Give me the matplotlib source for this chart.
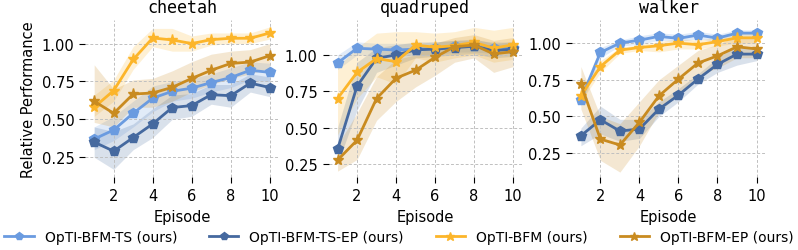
import matplotlib
matplotlib.use("Agg")
import matplotlib.pyplot as plt
import numpy as np

plt.rcParams["font.family"] = "DejaVu Sans"
plt.rcParams["font.size"] = 10

# episodes
episodes = [1, 2, 3, 4, 5, 6, 7, 8, 9, 10]

tasks = ["cheetah", "quadruped", "walker"]
methods = ["OpTI-BFM-TS (ours)", "OpTI-BFM-TS-EP (ours)", "OpTI-BFM (ours)", "OpTI-BFM-EP (ours)"]
colors = ["#6a9be0", "#45699f", "#fcb52a", "#c98b20"]
markers = ["p", "p", "*", "*"]

# mean relative performance, per task, per method
cheetah_mean = [
    [0.37, 0.43, 0.54, 0.64, 0.685, 0.706, 0.743, 0.776, 0.824, 0.81],
    [0.35, 0.29, 0.38, 0.47, 0.578, 0.591, 0.663, 0.656, 0.739, 0.71],
    [0.58, 0.69, 0.895, 1.037, 1.024, 1.0, 1.026, 1.035, 1.035, 1.07],
    [0.62, 0.54, 0.667, 0.674, 0.711, 0.77, 0.824, 0.869, 0.878, 0.92],
]
cheetah_lo = [
    [0.30, 0.36, 0.45, 0.55, 0.62, 0.64, 0.68, 0.71, 0.76, 0.75],
    [0.25, 0.17, 0.30, 0.38, 0.50, 0.52, 0.60, 0.58, 0.68, 0.65],
    [0.52, 0.62, 0.83, 0.98, 0.95, 0.95, 0.99, 1.00, 1.00, 1.03],
    [0.48, 0.45, 0.58, 0.58, 0.62, 0.68, 0.73, 0.77, 0.80, 0.84],
]
cheetah_hi = [
    [0.45, 0.52, 0.62, 0.72, 0.75, 0.77, 0.80, 0.84, 0.88, 0.87],
    [0.45, 0.42, 0.47, 0.57, 0.66, 0.67, 0.73, 0.73, 0.80, 0.78],
    [0.66, 0.76, 0.98, 1.10, 1.10, 1.05, 1.07, 1.07, 1.07, 1.11],
    [0.86, 0.70, 0.76, 0.77, 0.82, 0.88, 0.93, 0.95, 0.96, 1.00],
]

quadruped_mean = [
    [0.945, 1.046, 1.04, 1.034, 1.04, 1.045, 1.06, 1.06, 1.05, 1.05],
    [0.35, 0.785, 0.977, 1.0, 1.035, 1.04, 1.05, 1.06, 1.03, 1.04],
    [0.70, 0.88, 0.975, 0.954, 1.068, 1.053, 1.064, 1.087, 1.046, 1.07],
    [0.276, 0.413, 0.70, 0.84, 0.895, 0.984, 1.057, 1.068, 1.007, 1.023],
]
quadruped_lo = [
    [0.90, 1.00, 1.00, 0.99, 1.00, 1.00, 1.02, 1.02, 1.01, 1.01],
    [0.25, 0.62, 0.88, 0.93, 0.98, 0.99, 1.00, 1.01, 0.98, 0.99],
    [0.45, 0.70, 0.85, 0.80, 0.98, 0.95, 0.98, 1.00, 0.95, 0.97],
    [0.20, 0.28, 0.55, 0.68, 0.78, 0.86, 0.95, 0.98, 0.88, 0.92],
]
quadruped_hi = [
    [1.00, 1.09, 1.08, 1.08, 1.08, 1.09, 1.10, 1.10, 1.09, 1.09],
    [0.50, 0.95, 1.05, 1.07, 1.09, 1.09, 1.10, 1.11, 1.08, 1.09],
    [0.92, 1.05, 1.15, 1.16, 1.16, 1.15, 1.16, 1.19, 1.17, 1.19],
    [0.38, 0.60, 0.85, 0.97, 1.00, 1.08, 1.12, 1.14, 1.10, 1.12],
]

walker_mean = [
    [0.614, 0.936, 1.0, 1.02, 1.046, 1.032, 1.055, 1.034, 1.068, 1.068],
    [0.368, 0.477, 0.40, 0.414, 0.55, 0.645, 0.755, 0.855, 0.925, 0.925],
    [0.64, 0.84, 0.952, 0.97, 0.982, 1.0, 0.989, 1.01, 1.036, 1.036],
    [0.72, 0.345, 0.305, 0.46, 0.64, 0.755, 0.864, 0.913, 0.975, 0.96],
]
walker_lo = [
    [0.57, 0.90, 0.98, 0.99, 1.02, 1.01, 1.03, 1.01, 1.04, 1.04],
    [0.30, 0.38, 0.33, 0.35, 0.50, 0.60, 0.72, 0.80, 0.85, 0.88],
    [0.60, 0.80, 0.93, 0.95, 0.94, 0.96, 0.96, 0.98, 1.00, 1.00],
    [0.55, 0.20, 0.12, 0.30, 0.53, 0.65, 0.78, 0.83, 0.90, 0.90],
]
walker_hi = [
    [0.66, 0.97, 1.02, 1.05, 1.07, 1.06, 1.08, 1.06, 1.09, 1.09],
    [0.42, 0.57, 0.48, 0.48, 0.60, 0.69, 0.79, 0.90, 0.98, 0.97],
    [0.68, 0.88, 0.97, 0.99, 1.01, 1.03, 1.02, 1.04, 1.08, 1.07],
    [0.84, 0.50, 0.45, 0.60, 0.75, 0.85, 0.95, 0.99, 1.05, 1.03],
]

means = [cheetah_mean, quadruped_mean, walker_mean]
los = [cheetah_lo, quadruped_lo, walker_lo]
his = [cheetah_hi, quadruped_hi, walker_hi]
ylims = [(0.12, 1.155), (0.16, 1.24), (0.087, 1.157)]

fig, axes = plt.subplots(1, 3, figsize=(7.98, 2.51), dpi=100)
fig.subplots_adjust(left=0.107, right=0.959, top=0.916, bottom=0.291, wspace=0.26)

for k, ax in enumerate(axes):
    for m in range(4):
        ax.fill_between(episodes, los[k][m], his[k][m], color=colors[m], alpha=0.2, linewidth=0)
        ax.plot(episodes, means[k][m], color=colors[m], marker=markers[m],
                markersize=7 if markers[m] == "p" else 8, linewidth=2, label=methods[m])
    ax.set_title(tasks[k], family="DejaVu Sans Mono", fontsize=12)
    ax.set_xlabel("Episode", fontsize=10.5)
    ax.set_xticks([2, 4, 6, 8, 10])
    ax.set_yticks([0.25, 0.5, 0.75, 1.0])
    ax.set_ylim(*ylims[k])
    ax.grid(True, linestyle=(0, (3, 2)), color="#c0c0c0", linewidth=0.7)
    for s in ax.spines.values():
        s.set_visible(False)
    ax.tick_params(length=4.5, labelsize=10.5)

axes[0].set_ylabel("Relative Performance", fontsize=10.5)

# legend under the panels, one row
handles, labels = axes[0].get_legend_handles_labels()
fig.legend(handles, labels, loc="center", bbox_to_anchor=(0.5, 0.052), ncol=4, frameon=False,
           fontsize=10, handlelength=2.1, columnspacing=2.3, markerscale=0.8)

fig.savefig("out.png", dpi=100)
